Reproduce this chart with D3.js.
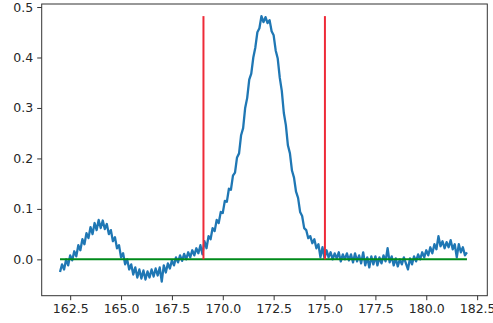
<!DOCTYPE html>
<html><head><meta charset="utf-8">
<script src="https://cdn.jsdelivr.net/npm/d3@7"></script>
<style>
html,body{margin:0;padding:0;background:#fff;}
svg{display:block;}
.tick text{font-family:"DejaVu Sans",sans-serif;font-size:12.5px;fill:#262626;}
</style></head>
<body><svg id="c" width="493" height="323"></svg>
<script>
const wavelength = [
162.0,162.1,162.2,162.3,162.4,162.5,162.6,162.7,162.8,162.9,
163.0,163.1,163.2,163.3,163.4,163.5,163.6,163.7,163.8,163.9,
164.0,164.1,164.2,164.3,164.4,164.5,164.6,164.7,164.8,164.9,
165.0,165.1,165.2,165.3,165.4,165.5,165.6,165.7,165.8,165.9,
166.0,166.1,166.2,166.3,166.4,166.5,166.6,166.7,166.8,166.9,
167.0,167.1,167.2,167.3,167.4,167.5,167.6,167.7,167.8,167.9,
168.0,168.1,168.2,168.3,168.4,168.5,168.6,168.7,168.8,168.9,
169.0,169.1,169.2,169.3,169.4,169.5,169.6,169.7,169.8,169.9,
170.0,170.1,170.2,170.3,170.4,170.5,170.6,170.7,170.8,170.9,
171.0,171.1,171.2,171.3,171.4,171.5,171.6,171.7,171.8,171.9,
172.0,172.1,172.2,172.3,172.4,172.5,172.6,172.7,172.8,172.9,
173.0,173.1,173.2,173.3,173.4,173.5,173.6,173.7,173.8,173.9,
174.0,174.1,174.2,174.3,174.4,174.5,174.6,174.7,174.8,174.9,
175.0,175.1,175.2,175.3,175.4,175.5,175.6,175.7,175.8,175.9,
176.0,176.1,176.2,176.3,176.4,176.5,176.6,176.7,176.8,176.9,
177.0,177.1,177.2,177.3,177.4,177.5,177.6,177.7,177.8,177.9,
178.0,178.1,178.2,178.3,178.4,178.5,178.6,178.7,178.8,178.9,
179.0,179.1,179.2,179.3,179.4,179.5,179.6,179.7,179.8,179.9,
180.0,180.1,180.2,180.3,180.4,180.5,180.6,180.7,180.8,180.9,
181.0,181.1,181.2,181.3,181.4,181.5,181.6,181.7,181.8,181.9,
182.0];
const intensity = [
-0.025,-0.010,-0.020,0.000,-0.012,0.008,-0.002,0.016,0.006,0.028,
0.018,0.040,0.030,0.052,0.042,0.064,0.050,0.072,0.058,0.078,
0.062,0.077,0.060,0.070,0.050,0.058,0.036,0.044,0.022,0.028,
0.004,0.012,-0.010,0.000,-0.020,-0.010,-0.030,-0.016,-0.036,-0.020,
-0.038,-0.022,-0.040,-0.024,-0.036,-0.020,-0.034,-0.018,-0.032,-0.016,
-0.044,-0.012,-0.026,-0.008,-0.018,-0.002,-0.012,0.004,-0.006,0.008,
-0.003,0.011,0.000,0.014,0.004,0.018,0.008,0.022,0.012,0.028,
0.010,0.036,0.022,0.046,0.040,0.062,0.056,0.078,0.072,0.094,
0.092,0.116,0.114,0.140,0.138,0.166,0.172,0.202,0.210,0.246,
0.260,0.300,0.320,0.356,0.368,0.400,0.420,0.450,0.458,0.482,
0.470,0.480,0.468,0.474,0.452,0.444,0.414,0.398,0.360,0.334,
0.290,0.266,0.226,0.210,0.176,0.162,0.134,0.122,0.094,0.086,
0.062,0.058,0.042,0.046,0.032,0.040,0.022,0.030,0.004,0.024,
0.002,0.018,0.004,0.014,0.000,0.012,0.002,0.014,-0.004,0.010,
0.000,0.012,-0.002,0.010,-0.006,0.012,-0.004,0.008,-0.008,0.014,
-0.012,0.004,-0.016,0.006,-0.010,0.006,-0.012,0.004,-0.008,0.008,
-0.004,0.022,-0.006,0.006,-0.012,0.002,-0.014,0.000,-0.010,0.004,
-0.008,-0.020,0.002,-0.010,0.006,-0.004,0.010,0.000,0.014,0.004,
0.018,0.008,0.024,0.012,0.030,0.020,0.046,0.026,0.036,0.022,
0.034,0.024,0.038,0.020,0.030,0.004,0.030,0.014,0.024,0.008,
0.014];
const boundaries = [169.05, 175.02];
const boundaryTop = 0.482;
const baselineX = [162.0, 182.0];
const baselineY = [0.0, 0.0];
const xTicks = [162.5,165.0,167.5,170.0,172.5,175.0,177.5,180.0,182.5];
const yTicks = [0.0,0.1,0.2,0.3,0.4,0.5];
const xDomain = [161.1, 183.0];
const yDomain = [-0.072, 0.506];

const L=41.7, R=487.3, T=4, B=295.7;
const svg = d3.select("#c");
const x = d3.scaleLinear().domain(xDomain).range([L,R]);
const y = d3.scaleLinear().domain(yDomain).range([B,T]);

const pts = wavelength.map((w,i)=>[w,intensity[i]]);
svg.append("path").datum(pts)
  .attr("fill","none").attr("stroke","#1f77b4").attr("stroke-width",2.3)
  .attr("stroke-linejoin","round")
  .attr("d", d3.line().x(d=>x(d[0])).y(d=>y(d[1])));

svg.append("line")
  .attr("x1",x(baselineX[0])).attr("x2",x(baselineX[1]))
  .attr("y1",y(baselineY[0])).attr("y2",y(baselineY[1]))
  .attr("stroke","#008a1a").attr("stroke-width",2);

svg.selectAll("line.b").data(boundaries).enter().append("line").attr("class","b")
  .attr("x1",d=>x(d)).attr("x2",d=>x(d))
  .attr("y1",y(0)).attr("y2",y(boundaryTop))
  .attr("stroke","#ee2a38").attr("stroke-width",2);

const xa = svg.append("g").attr("transform",`translate(0,${B})`)
  .call(d3.axisBottom(x).tickValues(xTicks).tickFormat(d3.format(".1f")).tickSize(4.5).tickPadding(4).tickSizeOuter(0));
const ya = svg.append("g").attr("transform",`translate(${L},0)`)
  .call(d3.axisLeft(y).tickValues(yTicks).tickFormat(d3.format(".1f")).tickSize(4.5).tickPadding(4).tickSizeOuter(0));
[xa,ya].forEach(g=>{g.select(".domain").remove(); g.selectAll(".tick line").attr("stroke","#333").attr("stroke-width",1);});

svg.append("rect").attr("x",L).attr("y",T).attr("width",R-L).attr("height",B-T)
  .attr("fill","none").attr("stroke","#333").attr("stroke-width",1);
</script></body></html>
